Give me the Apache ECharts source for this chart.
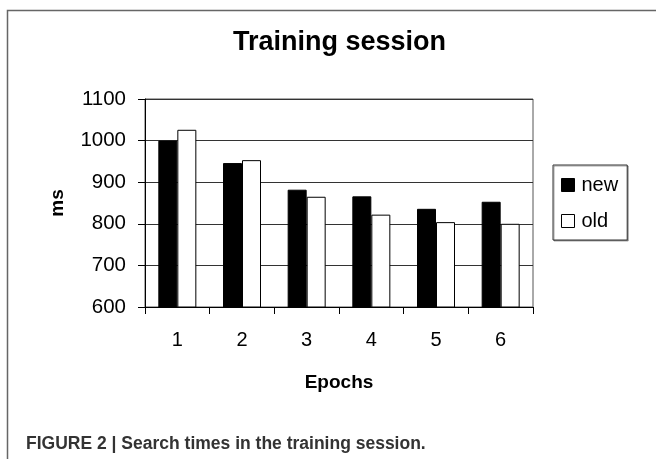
<!DOCTYPE html>
<html>
<head>
<meta charset="utf-8">
<script src="https://cdn.jsdelivr.net/npm/echarts@6/dist/echarts.min.js"></script>
<style>
  html, body { margin: 0; padding: 0; background: #fff; }
  #chart { width: 656px; height: 459px; }
</style>
</head>
<body>
<div id="chart"></div>
<script>
// Epoch labels along the x axis
const epochs = ['1', '2', '3', '4', '5', '6'];
// Mean search time (ms) per epoch
const newTimes = [1000, 946, 882, 866, 836, 853];
const oldTimes = [1026, 953, 865, 822, 804, 800];
// Value axis range
const yMin = 600, yMax = 1100, yStep = 100;

const font = '"Liberation Sans", Arial, Helvetica, sans-serif';
const chart = echarts.init(document.getElementById('chart'), null, { renderer: 'canvas' });

chart.setOption({
  animation: false,
  backgroundColor: '#fff',
  textStyle: { fontFamily: font, color: '#000' },
  grid: {
    left: 145, right: 123, top: 99, bottom: 152,
    show: true, borderColor: '#555', borderWidth: 1, backgroundColor: 'transparent'
  },
  legend: {
    orient: 'vertical',
    left: 553, top: 165,
    width: 60,
    padding: [10, 9, 9, 8],
    itemWidth: 13, itemHeight: 13, itemGap: 16,
    borderColor: '#333', borderWidth: 1,
    shadowColor: 'rgba(0,0,0,0.35)', shadowOffsetX: 1, shadowOffsetY: 1,
    backgroundColor: '#fff',
    textStyle: { fontFamily: font, fontSize: 20, color: '#000', padding: [0, 0, 0, 2] },
    data: [
      { name: 'new', icon: 'rect', itemStyle: { color: '#000', borderColor: '#000', borderWidth: 1 } },
      { name: 'old', icon: 'rect', itemStyle: { color: '#fff', borderColor: '#000', borderWidth: 1 } }
    ]
  },
  xAxis: {
    type: 'category',
    data: epochs,
    name: 'Epochs',
    nameLocation: 'middle',
    nameGap: 66,
    nameTextStyle: { fontFamily: font, fontSize: 19, fontWeight: 'bold', color: '#000' },
    axisLine: { lineStyle: { color: '#000', width: 1 } },
    axisTick: { show: true, length: 7, lineStyle: { color: '#000' } },
    axisLabel: { fontFamily: font, fontSize: 20, color: '#000', margin: 23 },
    splitLine: { show: false }
  },
  yAxis: {
    type: 'value',
    min: yMin, max: yMax, interval: yStep,
    name: 'ms',
    nameLocation: 'middle',
    nameGap: 78,
    nameTextStyle: { fontFamily: font, fontSize: 19, fontWeight: 'bold', color: '#000' },
    axisLine: { show: true, lineStyle: { color: '#000', width: 1 } },
    axisTick: { show: true, length: 7, lineStyle: { color: '#000' } },
    axisLabel: { fontFamily: font, fontSize: 20.5, color: '#000', margin: 19,
      formatter: v => String(v) },
    splitLine: { show: true, lineStyle: { color: '#333', width: 1 } }
  },
  series: [
    {
      name: 'new', type: 'bar', data: newTimes,
      barWidth: 19, barGap: '0%',
      itemStyle: { color: '#000', borderColor: '#000', borderWidth: 1 }
    },
    {
      name: 'old', type: 'bar', data: oldTimes,
      barWidth: 19, barGap: '0%',
      itemStyle: { color: '#fff', borderColor: '#000', borderWidth: 1 }
    }
  ],
  graphic: [
    // outer frame: top and left edges
    { type: 'polyline', silent: true,
      shape: { points: [[7.5, 459], [7.5, 10.5], [656, 10.5]] },
      style: { stroke: '#666', lineWidth: 1.5, fill: null } },
    { type: 'text', left: 233, top: 29, silent: true,
      style: { text: 'Training session', fontFamily: font, fontSize: 27, fontWeight: 'bold', fill: '#000' } },
    { type: 'text', left: 26, top: 435, silent: true,
      style: { text: 'FIGURE 2 | Search times in the training session.',
        fontFamily: font, fontSize: 17.5, fontWeight: 'bold', fill: '#333' } }
  ]
});
</script>
</body>
</html>
